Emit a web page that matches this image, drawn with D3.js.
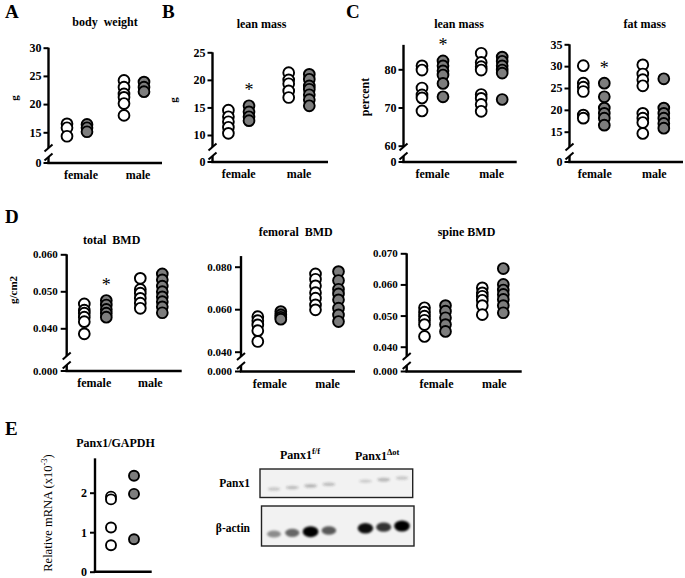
<!DOCTYPE html>
<html><head><meta charset="utf-8">
<script src="https://cdn.jsdelivr.net/npm/d3@7"></script>
<style>body{margin:0;background:#fff} text{white-space:pre}</style>
</head><body>
<script>
// ---------- DATA ----------
const categories = ["female", "male"];
// A body weight (g): [female values, male values]
const bwOpen   = [[16.5, 15.8, 14.3], [24.2, 23.0, 21.8, 21.2, 20.1, 18.0]];
const bwFilled = [[16.4, 15.8, 15.1], [23.9, 23.0, 22.2]];
const bwTicks  = [15, 20, 25, 30];
// B lean mass (g)
const lmOpen   = [[14.5, 13.3, 12.4, 11.4, 10.3], [21.3, 20.0, 19.3, 18.0, 16.8]];
const lmFilled = [[15.3, 14.2, 13.3, 12.6], [21.0, 20.1, 18.9, 18.3, 17.3, 16.4, 15.3]];
const lmTicks  = [10, 15, 20, 25];
// C lean mass (percent)
const lpOpen   = [[80.9, 79.8, 75.1, 73.3, 72.5, 69.1], [84.2, 81.8, 80.7, 79.8, 73.4, 72.4, 70.8, 69.0]];
const lpFilled = [[82.2, 80.9, 79.6, 78.5, 76.3, 72.8], [83.2, 82.1, 80.9, 79.8, 79.0, 72.1]];
const lpTicks  = [60, 70, 80];
// C fat mass (percent)
const fpOpen   = [[30.1, 26.1, 25.2, 24.2, 18.8, 18.1], [30.3, 28.2, 26.9, 25.5, 19.2, 18.1, 17.1, 14.6]];
const fpFilled = [[26.1, 23.0, 20.4, 19.2, 18.1, 16.5], [27.1, 20.4, 19.2, 18.1, 16.9, 15.8]];
const fpTicks  = [15, 20, 25, 30, 35];
// D total BMD (g/cm2)
const tbOpen   = [[0.0466, 0.0449, 0.0441, 0.0430, 0.0418, 0.0385], [0.0535, 0.0505, 0.0495, 0.0481, 0.0468, 0.0454]];
const tbFilled = [[0.0475, 0.0463, 0.0451, 0.0441, 0.0430], [0.0547, 0.0531, 0.0514, 0.0499, 0.0485, 0.0472, 0.0458, 0.0442]];
const tbTicks  = [0.040, 0.050, 0.060];
// D femoral BMD
const fbOpen   = [[0.0565, 0.0546, 0.0526, 0.0499, 0.0448], [0.0766, 0.0741, 0.0710, 0.0678, 0.0652, 0.0620, 0.0597]];
const fbFilled = [[0.0589, 0.0573, 0.0562, 0.0553], [0.0777, 0.0735, 0.0694, 0.0672, 0.0644, 0.0605, 0.0573, 0.0542]];
const fbTicks  = [0.040, 0.060, 0.080];
// D spine BMD
const sbOpen   = [[0.0525, 0.0511, 0.0498, 0.0485, 0.0471, 0.0433], [0.0589, 0.0573, 0.0562, 0.0549, 0.0532, 0.0503]];
const sbFilled = [[0.0532, 0.0514, 0.0493, 0.0471, 0.0449], [0.0651, 0.0600, 0.0582, 0.0568, 0.0552, 0.0532, 0.0509]];
const sbTicks  = [0.040, 0.050, 0.060, 0.070];
// E Panx1/GAPDH relative mRNA (x10^-3)
const mrnaOpen   = [1.90, 1.83, 1.12, 0.67];
const mrnaFilled = [2.43, 1.97, 0.82];
const mrnaTicks  = [0, 1, 2];
// E western blot band intensities (lanes: 4 x Panx1 f/f, 3 x Panx1 Δot)
const laneSlots  = [0, 1, 2, 3, 5, 6, 7];
const panx1Bands = [0.22, 0.26, 0.30, 0.26, 0.20, 0.30, 0.22];
const actinBands = [0.40, 0.55, 1.00, 0.60, 0.90, 0.75, 1.00];

// ---------- DRAW ----------
const FONT = "'Liberation Serif','Times New Roman',serif";
const GREY = "#7d7d7d";
const svg = d3.select("body").append("svg").attr("width", 685).attr("height", 578)
  .attr("font-family", FONT);

function txt(x, y, s, o = {}) {
  const t = svg.append("text").attr("x", x).attr("y", y).text(s)
    .attr("font-size", o.size || 12).attr("font-weight", o.weight || "bold")
    .attr("text-anchor", o.anchor || "middle").attr("fill", "#000");
  if (o.rotate) t.attr("transform", `rotate(-90,${x},${y})`);
  return t;
}
function ln(x1, y1, x2, y2, w = 2.4) {
  svg.append("line").attr("x1", x1).attr("y1", y1).attr("x2", x2).attr("y2", y2)
    .attr("stroke", "#000").attr("stroke-width", w);
}

function dotPanel(p) {
  const y = d3.scaleLinear().domain(p.yDomain).range(p.yRange);
  const x = d3.scalePoint().domain(p.cats).range(p.catRange);
  const sub = d3.scalePoint().domain(["open", "filled"]).range([-p.d, p.d]);
  const axis = d3.axisLeft(y).tickValues(p.ticks).tickFormat(p.fmt)
    .tickSize(p.tickLen).tickPadding(p.tickPad).tickSizeOuter(0);
  const ag = svg.append("g").attr("transform", `translate(${p.ax},0)`).call(axis);
  ag.select(".domain").remove();
  ag.selectAll("line").attr("stroke", "#000").attr("stroke-width", 2);
  ag.selectAll("text").attr("font-family", FONT).attr("font-weight", "bold")
    .attr("font-size", p.tickFont).attr("fill", "#000");
  const yTop = y(p.axisTop);
  const ax = p.ax;
  if (p.brk) {
    const b1 = p.base - 15, b2 = p.base - 6;
    ln(ax, yTop, ax, b1);
    ln(ax - 4, b1 + 3.5, ax + 4, b1 - 3.5, 2);
    ln(ax - 4, b2 + 3.5, ax + 4, b2 - 3.5, 2);
    ln(ax, b2, ax, p.base);
    ln(ax - p.tickLen, p.base, ax, p.base, 2);
    txt(ax - p.tickLen - p.tickPad, p.base, p.zeroLabel, { size: p.tickFont, anchor: "end" })
      .attr("dy", "0.32em");
  } else {
    ln(ax, yTop, ax, p.base);
  }
  ln(ax - 1.2, p.base, p.xEnd, p.base);
  if (p.showCats) {
    p.cats.forEach(c => txt(x(c) + (p.lblOff || 0), p.base + 16, c, { size: 12 }));
  }
  const groups = [];
  p.cats.forEach((c, i) => {
    groups.push({ cx: x(c) + sub("open"), vals: p.open[i], fill: "#fff" });
    groups.push({ cx: x(c) + sub("filled"), vals: p.filled[i], fill: GREY });
  });
  groups.forEach(gr => {
    svg.append("g").selectAll("circle").data(gr.vals).join("circle")
      .attr("cx", gr.cx).attr("cy", d => y(d)).attr("r", p.r || 5.4)
      .attr("fill", gr.fill).attr("stroke", "#000").attr("stroke-width", 1.9);
  });
  if (p.star) {
    const ci = p.cats.indexOf(p.star);
    const cy = y(d3.max(p.filled[ci])) - 17;
    txt(x(p.star) + sub("filled"), cy + 7.5, "*", { size: 18, weight: "normal" });
  }
  if (p.title) txt(p.title[0], p.title[1], p.title[2], { size: 12 });
  if (p.ylabel) txt(p.ylabel[0], p.ylabel[1], p.ylabel[2], { size: p.ylabel[3] || 11, rotate: true });
}

const fmtInt = d3.format("d"), fmtBmd = d3.format(".3f");

// Row 1
dotPanel({ yDomain: [15, 30], yRange: [132.3, 47.7], ticks: bwTicks, fmt: fmtInt, axisTop: 30,
  ax: 48.5, base: 163, xEnd: 162, cats: categories, catRange: [77, 134], d: 10, lblOff: 4,
  tickLen: 5, tickPad: 2, tickFont: 12, brk: true, zeroLabel: "0", showCats: true,
  open: bwOpen, filled: bwFilled, title: [105, 26, "body  weight"], ylabel: [18, 98, "g", 11] });
dotPanel({ yDomain: [10, 25], yRange: [135, 52.3], ticks: lmTicks, fmt: fmtInt, axisTop: 25,
  ax: 212.5, base: 162, xEnd: 328, cats: categories, catRange: [238.7, 299], d: 10.3, lblOff: 0,
  tickLen: 5, tickPad: 2, tickFont: 12, brk: true, zeroLabel: "0", showCats: true,
  open: lmOpen, filled: lmFilled, star: "female", title: [261.5, 28, "lean mass"], ylabel: [177, 100, "g", 11] });
dotPanel({ yDomain: [60, 80], yRange: [145.7, 69.3], ticks: lpTicks, fmt: fmtInt, axisTop: 86.4,
  ax: 403.5, base: 162, xEnd: 516.7, cats: categories, catRange: [432.5, 491.7], d: 10.5, lblOff: 0,
  tickLen: 5, tickPad: 2, tickFont: 12, brk: true, zeroLabel: "0", showCats: true,
  open: lpOpen, filled: lpFilled, star: "female", title: [459, 28, "lean mass"], ylabel: [369, 97, "percent", 12] });
dotPanel({ yDomain: [15, 35], yRange: [131.7, 44.3], ticks: fpTicks, fmt: fmtInt, axisTop: 35,
  ax: 569.5, base: 162, xEnd: 683, cats: categories, catRange: [593.8, 653.3], d: 10.5, lblOff: 1,
  tickLen: 5, tickPad: 2, tickFont: 12, brk: true, zeroLabel: "0", showCats: true,
  open: fpOpen, filled: fpFilled, star: "female", title: [644.7, 28, "fat mass"] });

// Row 2
dotPanel({ yDomain: [0.040, 0.060], yRange: [328.3, 254.3], ticks: tbTicks, fmt: fmtBmd, axisTop: 0.060,
  ax: 66.7, base: 371, xEnd: 181.7, cats: categories, catRange: [95.3, 151.3], d: 11, lblOff: -1,
  tickLen: 6, tickPad: 3, tickFont: 11, brk: true, zeroLabel: "0.000", showCats: true,
  open: tbOpen, filled: tbFilled, star: "female", title: [111.7, 243.5, "total  BMD"], ylabel: [17, 290, "g/cm2", 11] });
dotPanel({ yDomain: [0.040, 0.080], yRange: [351.7, 266.7], ticks: fbTicks, fmt: fmtBmd, axisTop: 0.085,
  ax: 241, base: 371.5, xEnd: 355, cats: categories, catRange: [269.3, 327], d: 11.5, lblOff: 0.5,
  tickLen: 6, tickPad: 3, tickFont: 11, brk: true, zeroLabel: "0.000", showCats: true,
  open: fbOpen, filled: fbFilled, title: [295.8, 236, "femoral  BMD"] });
dotPanel({ yDomain: [0.040, 0.070], yRange: [346.7, 253.3], ticks: sbTicks, fmt: fmtBmd, axisTop: 0.070,
  ax: 406.7, base: 371.5, xEnd: 521.7, cats: categories, catRange: [435, 492.8], d: 10.5, lblOff: 1.5,
  tickLen: 6, tickPad: 3, tickFont: 11, brk: true, zeroLabel: "0.000", showCats: true,
  open: sbOpen, filled: sbFilled, title: [466.5, 236, "spine BMD"] });

// Row 3 (E) mRNA
dotPanel({ yDomain: [0, 2], yRange: [571.7, 492.7], ticks: mrnaTicks, fmt: fmtInt, axisTop: 2.87,
  ax: 95, base: 571.7, xEnd: 151.7, cats: ["all"], catRange: [122.5, 122.5], d: 11.5,
  tickLen: 5, tickPad: 3, tickFont: 12, brk: false, showCats: false, r: 5,
  open: [mrnaOpen], filled: [mrnaFilled], title: [115.5, 446.5, "Panx1/GAPDH"] });
{
  const t = txt(52, 513, "Relative mRNA (x10", { size: 12.5, weight: "normal", rotate: true });
  t.append("tspan").attr("baseline-shift", "super").attr("font-size", 8.5).text("-3");
  t.append("tspan").text(")");
}

// Panel letters
[["A", 5, 18], ["B", 162, 18], ["C", 346, 18], ["D", 5, 223], ["E", 5, 435]]
  .forEach(([l, x, y]) => txt(x, y, l, { size: 19, anchor: "start" }));

// ---------- Western blot ----------
const defs = svg.append("defs");
defs.append("filter").attr("id", "blur").attr("x", "-50%").attr("y", "-100%")
  .attr("width", "200%").attr("height", "300%")
  .append("feGaussianBlur").attr("stdDeviation", 0.9);
const laneX = d3.scaleLinear().domain([0, 7]).range([274, 402]);

function blot(box, bands, y0, y7, bw, bh, col) {
  svg.append("rect").attr("x", box[0]).attr("y", box[1]).attr("width", box[2]).attr("height", box[3])
    .attr("fill", "#f2f2f2").attr("stroke", "#222").attr("stroke-width", 1.4);
  const yL = d3.scaleLinear().domain([0, 7]).range([y0, y7]);
  svg.append("g").attr("filter", "url(#blur)").selectAll("ellipse").data(bands).join("ellipse")
    .attr("cx", (d, i) => laneX(laneSlots[i]))
    .attr("cy", (d, i) => yL(laneSlots[i]))
    .attr("rx", d => bw * (0.85 + 0.2 * d))
    .attr("ry", d => bh * (0.5 + 0.7 * d))
    .attr("fill", col).attr("fill-opacity", d => Math.min(1, d * 1.05));
}
blot([260, 469, 152.7, 28.5], panx1Bands, 489, 478, 7, 2.6, "#333");
blot([261.5, 506, 152.5, 40], actinBands, 534, 526, 7.5, 4.6, "#000");

txt(250, 486.5, "Panx1", { size: 11.5, anchor: "end" });
txt(250, 531.5, "β-actin", { size: 11.5, anchor: "end" });
{
  const t1 = txt(280, 458.5, "Panx1", { size: 12, anchor: "start" });
  t1.append("tspan").attr("baseline-shift", "super").attr("font-size", 8.5).text("f/f");
  const t2 = txt(355, 459.5, "Panx1", { size: 12, anchor: "start" });
  t2.append("tspan").attr("baseline-shift", "super").attr("font-size", 8.5).text("Δot");
}
</script>
</body></html>
